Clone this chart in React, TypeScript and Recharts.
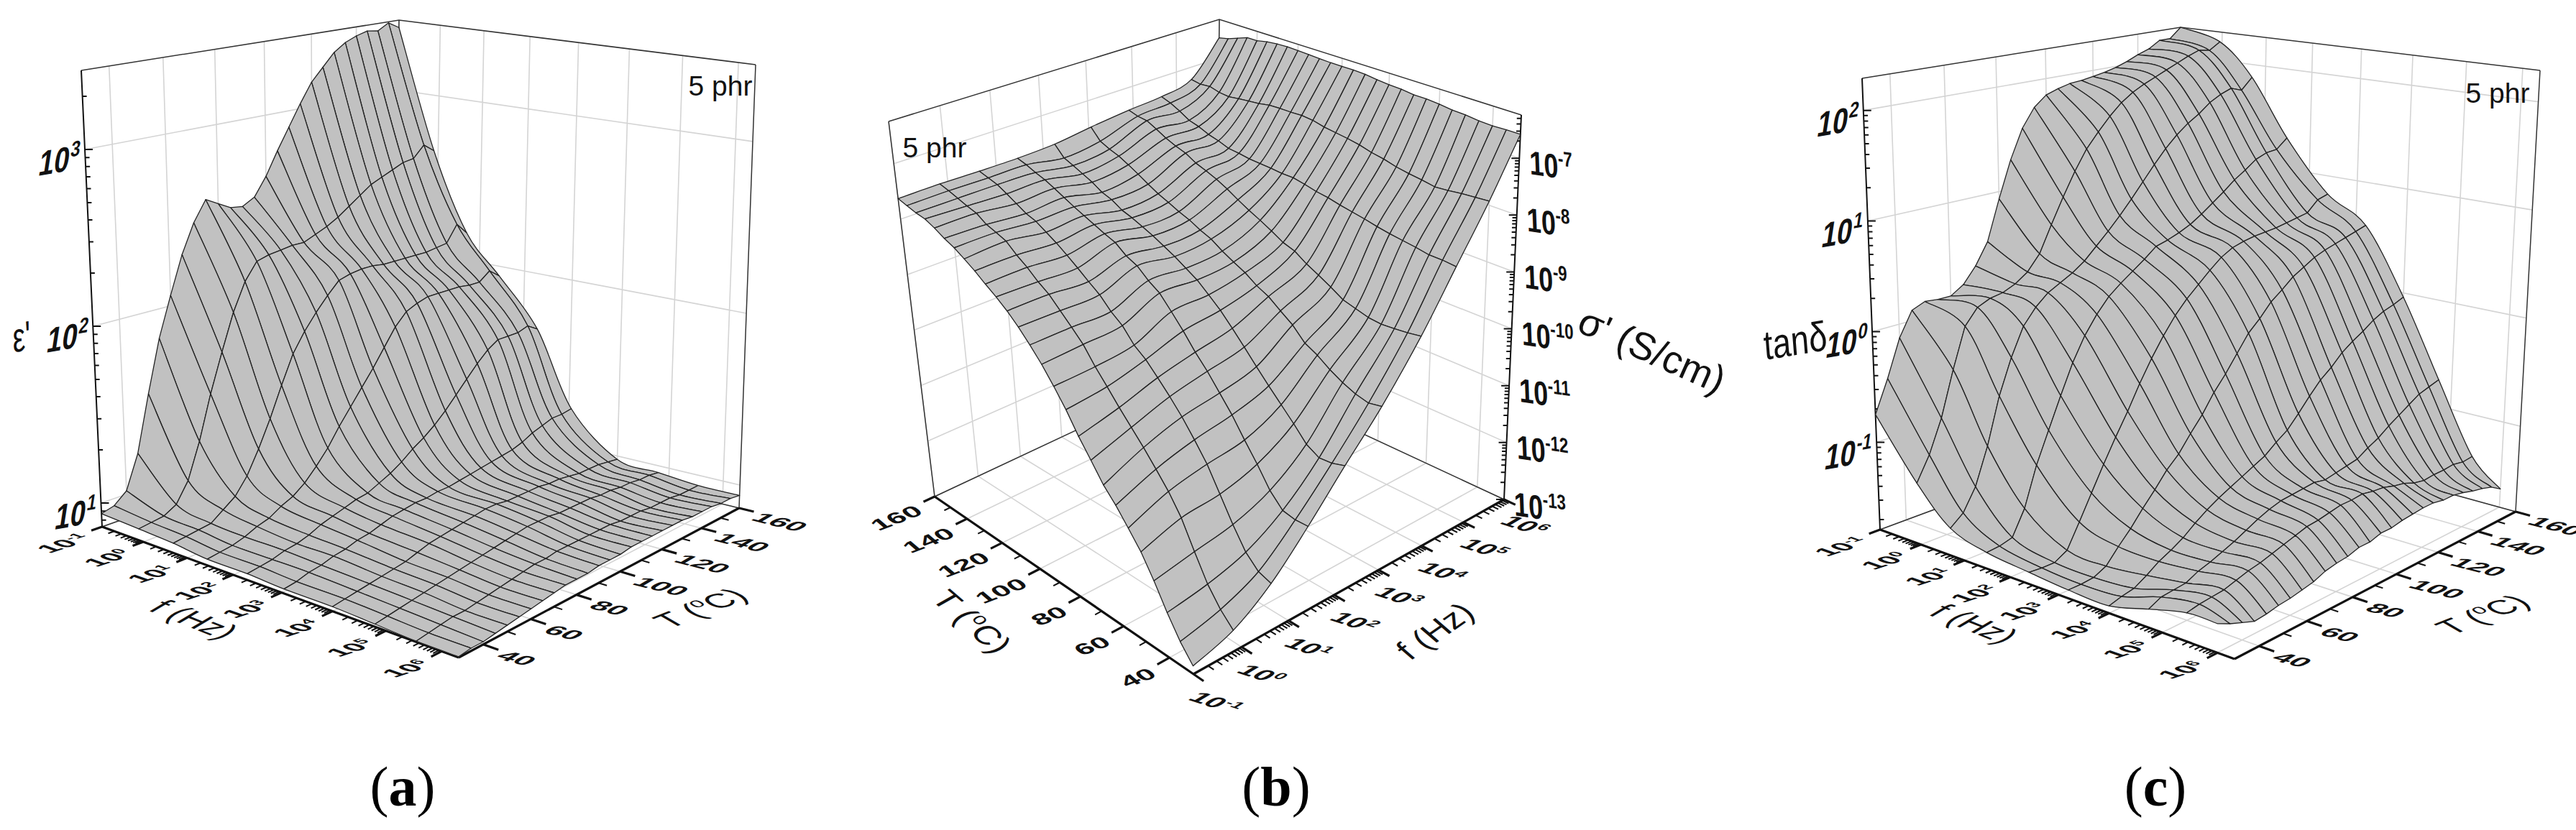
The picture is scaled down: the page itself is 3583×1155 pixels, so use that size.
import { ScatterChart, Scatter, XAxis, YAxis } from "recharts";

// log10(f / Hz) of the measured frequencies, and the measured temperatures
const freqLog = [-1, -0.1, 0.7, 1.45, 2.3, 3.05, 4, 4.8, 5.55, 6.3];
const sigmaFreqLog = [-1, -0.16, 0.65, 1.45, 2.25, 3.05, 3.9, 4.65, 5.35, 6];
const tanFreqLog = [-1, -0.05, 0.7, 1.5, 2.4, 3.2, 4, 4.75, 5.45, 6];
const tempC = [30, 35, 40, 45, 50, 55, 60, 65, 70, 75, 80, 85, 90, 95, 100, 105, 110, 115, 120, 125, 130, 135, 140, 145, 150, 155, 160];

const freqTicks = [-1, 0, 1, 2, 3, 4, 5, 6];
const tempTicks = [40, 60, 80, 100, 120, 140, 160];
const tempMinor = [50, 70, 90, 110, 130, 150];

// one row per frequency, log10 of the value at each temperature
const epsLog = [
	[0.94, 0.96, 1.02, 1.21, 1.53, 1.83, 2.06, 2.28, 2.45, 2.57, 2.53, 2.49, 2.48, 2.52, 2.63, 2.77, 2.9, 3.03, 3.15, 3.23, 3.31, 3.36, 3.39, 3.41, 3.4, 3.44, 3.4],
	[0.93, 0.94, 0.95, 0.99, 1.1, 1.3, 1.55, 1.77, 1.98, 2.14, 2.24, 2.26, 2.27, 2.28, 2.28, 2.31, 2.34, 2.38, 2.43, 2.48, 2.53, 2.56, 2.59, 2.62, 2.63, 2.7, 2.65],
	[0.92, 0.93, 0.94, 0.95, 1.0, 1.05, 1.14, 1.27, 1.42, 1.59, 1.75, 1.86, 1.95, 2.03, 2.1, 2.12, 2.13, 2.13, 2.12, 2.12, 2.12, 2.12, 2.12, 2.13, 2.14, 2.24, 2.17],
	[0.9, 0.91, 0.92, 0.94, 0.97, 0.99, 1.03, 1.06, 1.11, 1.18, 1.26, 1.36, 1.45, 1.54, 1.63, 1.73, 1.83, 1.9, 1.93, 1.95, 1.95, 1.95, 1.95, 1.94, 1.94, 1.99, 1.94],
	[0.9, 0.91, 0.92, 0.94, 0.95, 0.97, 1.0, 1.02, 1.04, 1.06, 1.07, 1.1, 1.13, 1.17, 1.22, 1.26, 1.31, 1.37, 1.44, 1.51, 1.58, 1.64, 1.68, 1.68, 1.68, 1.7, 1.66],
	[0.89, 0.9, 0.92, 0.93, 0.95, 0.96, 0.98, 0.99, 1.01, 1.03, 1.04, 1.05, 1.05, 1.06, 1.06, 1.07, 1.08, 1.09, 1.1, 1.11, 1.12, 1.14, 1.17, 1.19, 1.21, 1.21, 1.22],
	[0.89, 0.9, 0.91, 0.92, 0.93, 0.94, 0.95, 0.97, 0.99, 1.0, 1.01, 1.02, 1.03, 1.04, 1.04, 1.03, 1.03, 1.03, 1.03, 1.02, 1.02, 1.01, 1.0, 1.0, 1.0, 0.99, 0.98],
	[0.88, 0.89, 0.9, 0.91, 0.92, 0.93, 0.94, 0.95, 0.96, 0.97, 0.98, 0.99, 1.0, 1.01, 1.01, 1.01, 1.0, 1.0, 1.0, 1.0, 0.99, 0.99, 0.98, 0.98, 0.97, 0.97, 0.96],
	[0.87, 0.88, 0.89, 0.9, 0.9, 0.91, 0.92, 0.93, 0.94, 0.95, 0.96, 0.96, 0.97, 0.97, 0.97, 0.97, 0.97, 0.97, 0.96, 0.96, 0.96, 0.95, 0.95, 0.95, 0.94, 0.94, 0.94],
	[0.87, 0.88, 0.88, 0.89, 0.9, 0.91, 0.92, 0.93, 0.94, 0.95, 0.95, 0.95, 0.96, 0.96, 0.96, 0.97, 0.97, 0.97, 0.97, 0.97, 0.97, 0.96, 0.96, 0.96, 0.95, 0.95, 0.94],
];

const sigmaLog = [
	[-12.87, -12.61, -12.27, -11.88, -11.53, -11.26, -11.0, -10.78, -10.48, -10.19, -9.85, -9.56, -9.29, -9.06, -8.85, -8.67, -8.52, -8.39, -8.25, -8.13, -8.02, -7.94, -7.84, -7.76, -7.73, -7.68, -7.63],
	[-12.66, -12.45, -12.16, -11.75, -11.31, -10.99, -10.73, -10.48, -10.25, -10.02, -9.77, -9.53, -9.25, -9.05, -8.86, -8.67, -8.54, -8.38, -8.25, -8.09, -8.02, -7.96, -7.84, -7.79, -7.73, -7.67, -7.62],
	[-12.24, -12.17, -11.97, -11.63, -11.24, -10.85, -10.55, -10.27, -10.03, -9.81, -9.6, -9.45, -9.21, -9.06, -8.86, -8.72, -8.57, -8.43, -8.3, -8.19, -8.08, -8.02, -7.92, -7.82, -7.73, -7.68, -7.63],
	[-11.63, -11.64, -11.6, -11.38, -11.05, -10.75, -10.43, -10.16, -9.89, -9.66, -9.39, -9.15, -8.92, -8.79, -8.62, -8.53, -8.38, -8.31, -8.23, -8.15, -8.07, -7.98, -7.89, -7.81, -7.75, -7.68, -7.63],
	[-10.94, -11.01, -11.03, -10.91, -10.67, -10.45, -10.23, -10.0, -9.76, -9.53, -9.31, -9.13, -8.96, -8.84, -8.72, -8.62, -8.52, -8.44, -8.36, -8.3, -8.19, -8.13, -8.02, -7.94, -7.86, -7.79, -7.6],
	[-10.25, -10.3, -10.25, -10.16, -10.04, -9.89, -9.78, -9.56, -9.41, -9.25, -9.15, -9.01, -8.91, -8.8, -8.67, -8.59, -8.49, -8.42, -8.33, -8.25, -8.15, -8.04, -7.94, -7.85, -7.79, -7.71, -7.51],
	[-9.37, -9.41, -9.44, -9.46, -9.44, -9.38, -9.32, -9.19, -9.07, -8.96, -8.82, -8.75, -8.63, -8.52, -8.42, -8.31, -8.19, -8.09, -8.01, -7.94, -7.83, -7.77, -7.69, -7.59, -7.5, -7.48, -7.43],
	[-8.44, -8.42, -8.42, -8.38, -8.35, -8.32, -8.28, -8.23, -8.19, -8.15, -8.1, -8.07, -8.02, -7.98, -7.98, -7.96, -7.95, -7.94, -7.91, -7.89, -7.82, -7.77, -7.69, -7.64, -7.53, -7.44, -7.38],
	[-7.54, -7.56, -7.58, -7.61, -7.63, -7.59, -7.56, -7.52, -7.46, -7.42, -7.36, -7.32, -7.29, -7.26, -7.21, -7.19, -7.2, -7.2, -7.21, -7.25, -7.27, -7.29, -7.32, -7.3, -7.25, -7.27, -7.24],
	[-6.58, -6.58, -6.59, -6.58, -6.55, -6.54, -6.51, -6.49, -6.49, -6.46, -6.45, -6.43, -6.4, -6.39, -6.39, -6.39, -6.38, -6.37, -6.36, -6.35, -6.36, -6.38, -6.42, -6.42, -6.49, -6.56, -6.6],
];

const tanLog = [
	[-0.75, -0.46, -0.125, 0.095, 0.144, 0.13, 0.13, 0.205, 0.35, 0.55, 0.93, 1.28, 1.56, 1.74, 1.84, 1.88, 1.91, 1.92, 1.94, 1.96, 1.99, 2.03, 2.08, 2.12, 2.19, 2.19, 2.29],
	[-1.25, -1.04, -0.75, -0.35, 0.01, 0.15, 0.2, 0.22, 0.27, 0.35, 0.49, 0.735, 0.97, 1.19, 1.38, 1.52, 1.65, 1.76, 1.84, 1.9, 1.95, 2.0, 2.05, 2.1, 2.14, 2.12, 2.19],
	[-1.55, -1.46, -1.27, -0.95, -0.54, -0.23, 0.02, 0.16, 0.26, 0.32, 0.38, 0.46, 0.57, 0.68, 0.8, 0.93, 1.07, 1.21, 1.34, 1.45, 1.54, 1.61, 1.7, 1.76, 1.8, 1.76, 1.87],
	[-1.65, -1.64, -1.61, -1.4, -1.06, -0.79, -0.52, -0.26, -0.05, 0.11, 0.24, 0.33, 0.41, 0.49, 0.58, 0.61, 0.65, 0.7, 0.77, 0.85, 0.93, 1.02, 1.09, 1.17, 1.21, 1.22, 1.31],
	[-1.69, -1.7, -1.7, -1.64, -1.44, -1.23, -1.02, -0.82, -0.63, -0.42, -0.23, -0.06, 0.09, 0.21, 0.31, 0.41, 0.5, 0.56, 0.59, 0.61, 0.62, 0.63, 0.65, 0.67, 0.69, 0.79, 0.82],
	[-1.72, -1.72, -1.71, -1.66, -1.54, -1.43, -1.3, -1.18, -1.05, -0.95, -0.81, -0.68, -0.52, -0.39, -0.24, -0.09, 0.01, 0.13, 0.21, 0.3, 0.36, 0.42, 0.46, 0.49, 0.52, 0.55, 0.58],
	[-1.73, -1.7, -1.68, -1.62, -1.55, -1.5, -1.44, -1.36, -1.29, -1.23, -1.18, -1.13, -1.08, -1.03, -0.95, -0.88, -0.77, -0.65, -0.54, -0.46, -0.36, -0.29, -0.23, -0.16, -0.11, -0.08, -0.04],
	[-1.64, -1.59, -1.58, -1.57, -1.52, -1.49, -1.45, -1.41, -1.36, -1.31, -1.27, -1.24, -1.23, -1.22, -1.21, -1.23, -1.21, -1.19, -1.17, -1.11, -1.06, -0.99, -0.93, -0.87, -0.81, -0.78, -0.75],
	[-1.56, -1.54, -1.53, -1.52, -1.49, -1.46, -1.44, -1.41, -1.38, -1.35, -1.32, -1.31, -1.29, -1.27, -1.27, -1.26, -1.28, -1.29, -1.32, -1.34, -1.38, -1.4, -1.39, -1.39, -1.38, -1.4, -1.39],
	[-1.56, -1.61, -1.65, -1.69, -1.68, -1.66, -1.65, -1.63, -1.61, -1.57, -1.55, -1.54, -1.51, -1.51, -1.48, -1.48, -1.46, -1.45, -1.44, -1.44, -1.46, -1.46, -1.48, -1.51, -1.53, -1.56, -1.62],
];

type Pt = { x: number; y: number };
type Quad = [number, number][];
type Mat = [number, number, number, number];
type Note = {
	x: number;
	y: number;
	text: string;
	sup?: string;
	tail?: string;
	size: number;
	rotate?: number;
	matrix?: Mat;
	anchor?: "start" | "middle" | "end";
	bold?: boolean;
};

const Lines = (polys: Pt[][], stroke: string, width: number, key: string) => {
	const flat = polys.flat();
	const draw = (p: { points: Pt[] }) => {
		let at = 0;
		const d = polys
			.map((poly) => {
				const part = p.points.slice(at, at + poly.length);
				at += poly.length;
				return "M" + part.map((c) => `${c.x},${c.y}`).join("L");
			})
			.join("");
		return <path d={d} fill="none" stroke={stroke} strokeWidth={width} />;
	};
	return <Scatter key={key} data={flat} line={draw} shape={() => <g />} isAnimationActive={false} />;
};

const NoteMark = (p: { cx: number; cy: number; payload: Note }) => {
	const n = p.payload;
	let transform = `translate(${p.cx} ${p.cy})`;
	if (n.matrix) transform = `matrix(${n.matrix.join(" ")} ${p.cx} ${p.cy})`;
	else if (n.rotate) transform += ` rotate(${n.rotate})`;
	return (
		<text
			transform={transform}
			textAnchor={n.anchor || "middle"}
			dominantBaseline="central"
			fontFamily="Liberation Sans"
			fontWeight={n.bold ? 700 : 400}
			fontSize={n.size}
			fill="#111"
		>
			{n.text}
			{n.sup && (
				<tspan dy="-0.42em" fontSize="62%">
					{n.sup}
				</tspan>
			)}
			{n.tail && <tspan dy="0.26em">{n.tail}</tspan>}
		</text>
	);
};

type PanelProps = {
	left: number;
	width: number;
	rows: number[][];
	freq: number[];
	span: number;
	zMin: number;
	zMax: number;
	zTicks: number[];
	floor: Quad;
	lid: Quad;
	fWarp: number;
	tWarp: number;
	backU: 0 | 1; // which frequency wall stands at the back
	fOff: [number, number];
	tOff: [number, number];
	zOff: [number, number];
	fMat: Mat;
	tMat: Mat;
	zMat: Mat;
	zSize: number;
	notes: Note[];
};

const Panel = (c: PanelProps) => {
	const uOf = (lf: number) => (lf + 1) / c.span;
	const vOf = (t: number) => (t - 30) / 130;
	const wOf = (z: number) => (z - c.zMin) / (c.zMax - c.zMin);
	const bil = (q: Quad, s: number, t: number, k: 0 | 1) =>
		(1 - t) * ((1 - s) * q[0][k] + s * q[1][k]) + t * ((1 - s) * q[3][k] + s * q[2][k]);
	// axes of the picture foreshorten towards the back corner
	const at = (u: number, v: number, w: number): Pt => {
		const s = u + c.fWarp * u * (1 - u);
		const t = v + c.tWarp * v * (1 - v);
		return {
			x: bil(c.floor, s, t, 0) * (1 - w) + bil(c.lid, s, t, 0) * w,
			y: bil(c.floor, s, t, 1) * (1 - w) + bil(c.lid, s, t, 1) * w,
		};
	};

	const wallU = c.backU;
	const frontU = 1 - wallU;

	const grid: Pt[][] = [];
	c.zTicks.map(wOf).forEach((w) => {
		grid.push([at(wallU, 0, w), at(wallU, 1, w)]);
		grid.push([at(0, 1, w), at(1, 1, w)]);
	});
	tempTicks.map(vOf).forEach((v) => {
		grid.push([at(wallU, v, 0), at(wallU, v, 1)]);
		grid.push([at(0, v, 0), at(1, v, 0)]);
	});
	freqTicks.map(uOf).forEach((u) => {
		grid.push([at(u, 1, 0), at(u, 1, 1)]);
		grid.push([at(u, 0, 0), at(u, 1, 0)]);
	});

	const box: Pt[][] = [
		[at(wallU, 0, 1), at(wallU, 1, 1), at(frontU, 1, 1)],
		[at(wallU, 1, 0), at(wallU, 1, 1)],
		[at(frontU, 1, 0), at(frontU, 1, 1)],
		[at(wallU, 0, 0), at(wallU, 1, 0), at(frontU, 1, 0)],
	];

	// thick floor axes and their ticks
	const tAxisU = frontU;
	const tDir = tAxisU === 1 ? 1 : -1;
	const axes: Pt[][] = [
		[at(0, 0, 0), at(1, 0, 0)],
		[at(tAxisU, 0, 0), at(tAxisU, 1, 0)],
	];
	freqTicks.forEach((lf) => axes.push([at(uOf(lf), 0, 0), at(uOf(lf), -0.032, 0)]));
	tempTicks.forEach((t) => axes.push([at(tAxisU, vOf(t), 0), at(tAxisU + tDir * 0.036, vOf(t), 0)]));
	const minor: Pt[][] = [];
	const subs = [2, 3, 4, 5, 6, 7, 8, 9];
	freqTicks.slice(0, -1).forEach((lf) =>
		subs.forEach((k) => {
			const u = uOf(lf + Math.log10(k));
			minor.push([at(u, 0, 0), at(u, -0.018, 0)]);
		}),
	);
	tempMinor.forEach((t) => minor.push([at(tAxisU, vOf(t), 0), at(tAxisU + tDir * 0.02, vOf(t), 0)]));

	// log ticks on the upright axis
	const zU = frontU === 1 ? 0 : 1;
	const zDir = zU === 0 ? 1 : -1;
	const zAxis: Pt[][] = [[at(zU, 0, 0), at(zU, 0, 1)]];
	for (let d = Math.floor(c.zMin); d <= Math.ceil(c.zMax); d++) {
		subs.concat(1).forEach((k) => {
			const z = d + Math.log10(k);
			if (z < c.zMin || z > c.zMax) return;
			const p = at(zU, 0, wOf(z));
			zAxis.push([p, { x: p.x + zDir * (k === 1 ? 11 : 6), y: p.y }]);
		});
	}

	// painter's order: back corner first, each temperature wire smoothed along frequency
	const nF = c.rows.length;
	const nT = c.rows[0].length;
	const nodes: Pt[] = [];
	c.rows.forEach((row, i) => row.forEach((z, j) => nodes.push(at(uOf(c.freq[i]), vOf(tempC[j]), wOf(z)))));
	const drawSurface = (p: { points: Pt[] }) => {
		const P = (i: number, j: number) => p.points[Math.max(0, Math.min(nF - 1, i)) * nT + j];
		const bend = (i: number, j: number, back: boolean) => {
			const [a, b, c0, d] = [P(i - 1, j), P(i, j), P(i + 1, j), P(i + 2, j)];
			const c1 = { x: b.x + (c0.x - a.x) / 6, y: b.y + (c0.y - a.y) / 6 };
			const c2 = { x: c0.x - (d.x - b.x) / 6, y: c0.y - (d.y - b.y) / 6 };
			return back
				? `C${c2.x},${c2.y} ${c1.x},${c1.y} ${b.x},${b.y}`
				: `C${c1.x},${c1.y} ${c2.x},${c2.y} ${c0.x},${c0.y}`;
		};
		const cells = [];
		for (let j = nT - 2; j >= 0; j--) {
			for (let n = 0; n < nF - 1; n++) {
				const i = c.backU === 0 ? n : nF - 2 - n;
				const a = P(i, j);
				const e = P(i + 1, j + 1);
				cells.push(
					<path
						key={`${i}-${j}`}
						d={`M${a.x},${a.y}${bend(i, j, false)}L${e.x},${e.y}${bend(i, j + 1, true)}Z`}
						fill="#c1c1c1"
						stroke="#222"
						strokeWidth={1.3}
						strokeLinejoin="round"
					/>,
				);
			}
		}
		return <g>{cells}</g>;
	};

	const labels: Note[] = [];
	const fAnchor = c.backU === 0 ? "end" : "start";
	const tAnchor = c.backU === 0 ? "start" : "end";
	freqTicks.forEach((lf) => {
		const p = at(uOf(lf), -0.032, 0);
		labels.push({ x: p.x + c.fOff[0], y: p.y + c.fOff[1], text: "10", sup: String(lf), size: 36, matrix: c.fMat, anchor: fAnchor, bold: true });
	});
	tempTicks.forEach((t) => {
		const p = at(tAxisU + tDir * 0.036, vOf(t), 0);
		labels.push({ x: p.x + c.tOff[0], y: p.y + c.tOff[1], text: String(t), size: 32, matrix: c.tMat, anchor: tAnchor, bold: true });
	});
	c.zTicks.forEach((z) => {
		const p = at(zU, 0, wOf(z));
		labels.push({ x: p.x + c.zOff[0], y: p.y + c.zOff[1], text: "10", sup: String(z), size: c.zSize, matrix: c.zMat, anchor: fAnchor, bold: true });
	});

	return (
		<ScatterChart
			width={c.width}
			height={1155}
			margin={{ top: 0, right: 0, bottom: 0, left: 0 }}
			style={{ position: "absolute", left: c.left, top: 0 }}
		>
			<XAxis type="number" dataKey="x" domain={[c.left, c.left + c.width]} hide />
			<YAxis type="number" dataKey="y" domain={[0, 1155]} reversed hide />
			{Lines(grid, "#d4d4d4", 1.6, "grid")}
			{Lines(box, "#333", 1.5, "box")}
			{Lines(axes, "#111", 3.2, "axes")}
			{Lines(minor, "#111", 2, "minor")}
			{Lines(zAxis, "#111", 2, "zaxis")}
			<Scatter data={nodes} line={drawSurface} shape={() => <g />} isAnimationActive={false} />
			<Scatter data={[...labels, ...c.notes]} shape={NoteMark} isAnimationActive={false} />
		</ScatterChart>
	);
};

const captionStyle = { position: "absolute", top: 1050, width: 1120, textAlign: "center", font: "78px 'Liberation Serif'" } as const;

const App = () => (
	<div style={{ position: "absolute", left: 0, top: 0, width: 3583, height: 1155, background: "#fff", overflow: "hidden" }}>
		<Panel
			left={0}
			width={1180}
			rows={epsLog}
			freq={freqLog}
			span={7.3}
			zMin={0.866}
			zMax={3.447}
			zTicks={[1, 2, 3]}
			floor={[[142, 733], [638, 915], [1028, 707], [547, 590]]}
			lid={[[113, 98], [642, 209], [1051, 90], [555, 28]]}
			fWarp={-0.18}
			tWarp={0.15}
			backU={0}
			fOff={[-6, 8]}
			tOff={[3, 6]}
			zOff={[-8, 10]}
			fMat={[1.05, -0.34, 0.85, 0.3]}
			tMat={[1.25, 0.32, -0.8, 0.47]}
			zMat={[1, -0.18, -0.2, 1.3]}
			zSize={38}
			notes={[
				{ x: 270, y: 862, text: "f (Hz)", size: 46, matrix: [0.93, 0.37, -0.85, 0.5] },
				{ x: 974, y: 846, text: "T (", sup: "o", tail: "C)", size: 46, matrix: [0.93, -0.36, 0.83, 0.48] },
				{ x: 30, y: 468, text: "ε'", size: 46, matrix: [0.85, -0.14, 0.05, 1.25] },
				{ x: 1002, y: 119, text: "5 phr", size: 39 },
			]}
		/>
		<Panel
			left={1180}
			width={1220}
			rows={sigmaLog}
			freq={sigmaFreqLog}
			span={7}
			zMin={-13}
			zMax={-6.24}
			zTicks={[-13, -12, -11, -10, -9, -8, -7]}
			floor={[[1660, 938], [2092, 695], [1690, 508], [1300, 691]]}
			lid={[[1633, 352], [2116, 160], [1696, 27], [1236, 169]]}
			fWarp={0.1}
			tWarp={0.22}
			backU={1}
			fOff={[-14, 20]}
			tOff={[-6, 10]}
			zOff={[14, 6]}
			fMat={[1.02, 0.33, -0.78, 0.46]}
			tMat={[1.2, -0.46, 0.66, 0.56]}
			zMat={[1, 0.15, 0.05, 1.3]}
			zSize={36}
			notes={[
				{ x: 1352, y: 865, text: "T (", sup: "o", tail: "C)", size: 46, matrix: [0.76, 0.65, -0.85, 0.48] },
				{ x: 1996, y: 878, text: "f (Hz)", size: 46, matrix: [0.82, -0.57, 0.72, 0.62] },
				{ x: 2298, y: 487, text: "σ' (S/cm)", size: 54, rotate: 24 },
				{ x: 1300, y: 205, text: "5 phr", size: 39 },
			]}
		/>
		<Panel
			left={2400}
			width={1183}
			rows={tanLog}
			freq={tanFreqLog}
			span={7.3}
			zMin={-1.79}
			zMax={2.29}
			zTicks={[-1, 0, 1, 2]}
			floor={[[2615, 737], [3108, 917], [3499, 712], [3030, 583]]}
			lid={[[2590, 109], [3115, 196], [3533, 98], [3033, 38]]}
			fWarp={-0.18}
			tWarp={0.15}
			backU={0}
			fOff={[-6, 8]}
			tOff={[3, 6]}
			zOff={[-8, 10]}
			fMat={[1.05, -0.34, 0.85, 0.3]}
			tMat={[1.25, 0.32, -0.8, 0.47]}
			zMat={[1, -0.18, -0.2, 1.3]}
			zSize={38}
			notes={[
				{ x: 2746, y: 868, text: "f (Hz)", size: 46, matrix: [0.93, 0.37, -0.85, 0.5] },
				{ x: 3453, y: 855, text: "T (", sup: "o", tail: "C)", size: 46, matrix: [0.93, -0.36, 0.83, 0.48] },
				{ x: 2497, y: 474, text: "tanδ", size: 46, matrix: [0.98, -0.16, 0.1, 1.25] },
				{ x: 3474, y: 129, text: "5 phr", size: 39 },
			]}
		/>
		<div style={{ ...captionStyle, left: 0 }}>
			(<b>a</b>)
		</div>
		<div style={{ ...captionStyle, left: 1215 }}>
			(<b>b</b>)
		</div>
		<div style={{ ...captionStyle, left: 2438 }}>
			(<b>c</b>)
		</div>
	</div>
);

export default App;
